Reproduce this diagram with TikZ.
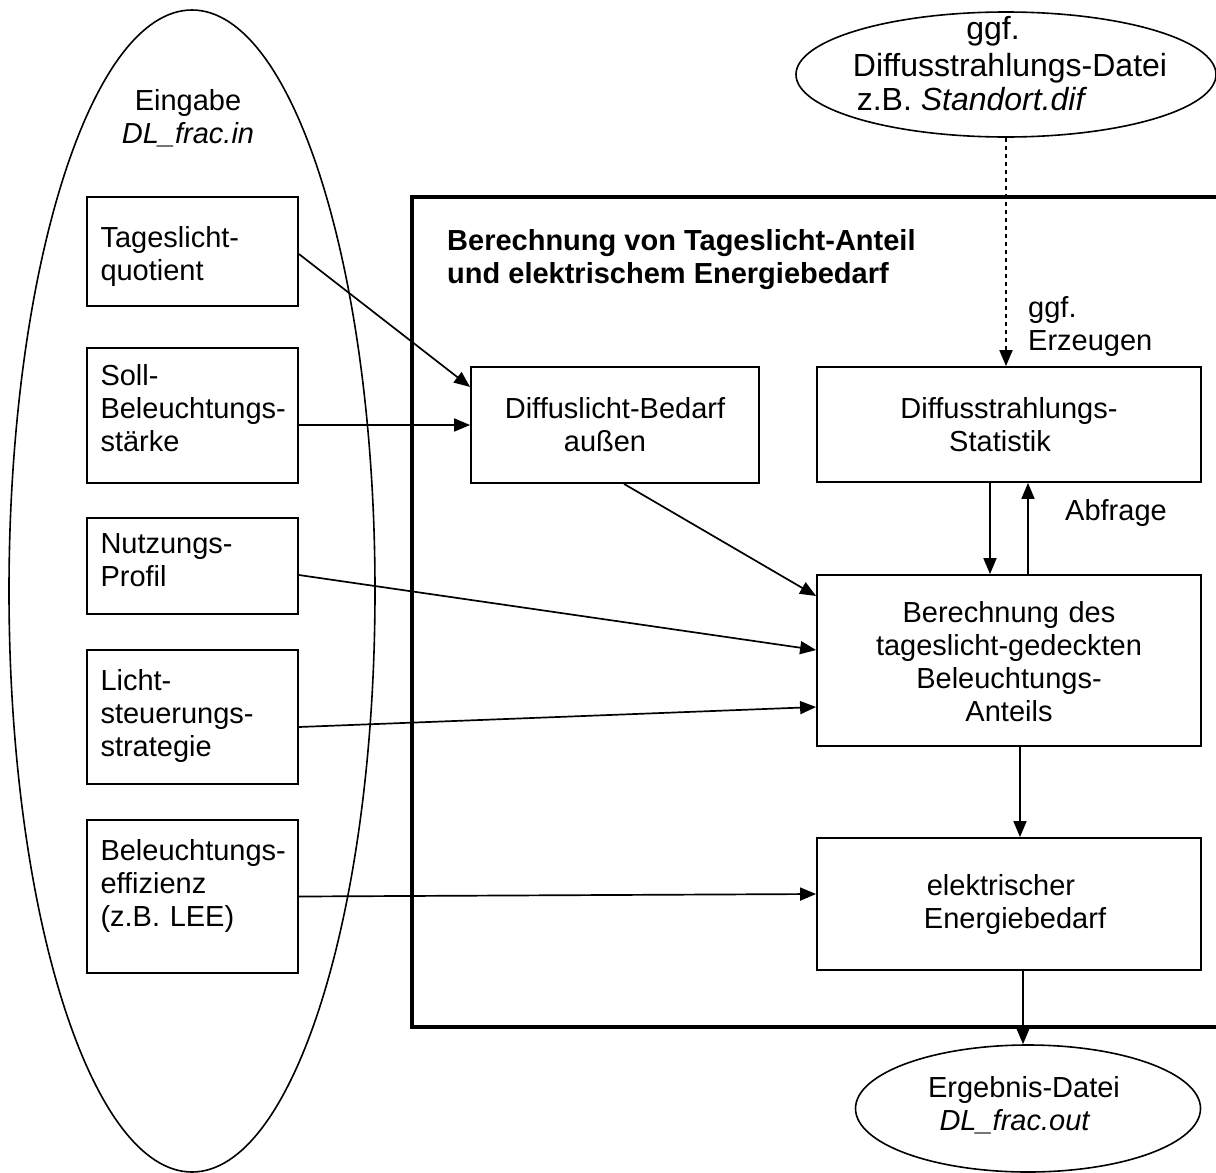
\documentclass[tikz,border=0pt]{standalone}
\usepackage{fontspec}
\setmainfont{Liberation Sans}
\usetikzlibrary{shapes.geometric,arrows.meta,calc}
\hyphenpenalty=10000
\exhyphenpenalty=10000
\newcommand{\padR}[1]{\rule{#1}{0pt}}
\begin{document}
\begin{tikzpicture}[x=1pt,y=-1pt,
  font=\fontsize{29}{33}\selectfont,
  arr/.style={-{Triangle[length=16pt,width=13pt]}, line width=1.7pt},
  dotline/.style={line width=2pt, dash pattern=on 4pt off 4pt},
  bl/.style={text height={40pt+(#1)*1pt}, text depth={40pt-(#1)*1pt}},
  inbox/.style={draw, line width=1.8pt, rectangle, minimum width=211pt, text width=184pt, inner xsep=13.5pt, inner ysep=0pt, align=left},
  pbox/.style={draw, line width=1.8pt, rectangle, inner ysep=0pt, align=center},
  oval/.style={draw, ellipse, line width=1.6pt, inner sep=0pt},
  lbl/.style={inner sep=0pt}]
\useasboundingbox (0,0) rectangle (1216,1173);

% frame
\node[draw, line width=4pt, rectangle, minimum width=828pt, minimum height=830pt, inner sep=0pt] (frame) at (826,612) {};

% input ellipse
\node[oval, minimum width=366pt, minimum height=1162pt] (E) at (192,591) {};
\node[lbl, anchor=base, align=center] (Etxt) at (188,143) {Eingabe\\\textit{DL\_frac.in}};

% input boxes
\node[inbox, minimum height=109pt, bl=-4.5] (q) at (192.5,251.5) {Tageslicht-\\quotient};
\node[inbox, minimum height=135pt, bl=-30.5] (s) at (192.5,415.5) {Soll-\\Beleuchtungs-\\stärke};
\node[inbox, minimum height=96pt, bl=-13] (n) at (192.5,566) {Nutzungs-\\Profil};
\node[inbox, minimum height=134pt, bl=-27] (l) at (192.5,717) {Licht-\\steuerungs-\\strategie};
\node[inbox, minimum height=153pt, bl=-36.5] (e) at (192.5,896.5) {Beleuchtungs-\\effizienz\\(z.B. LEE)};

% title
\node[lbl, anchor=base west, align=left, font=\fontsize{29}{33}\selectfont\bfseries] (title) at (447,283) {Berechnung von Tageslicht-Anteil\\und elektrischem Energiebedarf};

% process boxes
\node[pbox, minimum width=288pt, minimum height=116pt, text width=270pt, inner xsep=9pt, bl=-7] (D) at (615,425) {Diffuslicht-Bedarf\\au\ss en\padR{20pt}};
\node[pbox, minimum width=384pt, minimum height=115pt, text width=370pt, inner xsep=7pt, bl=-6.5] (S) at (1009,424.5) {Diffusstrahlungs-\\Statistik\padR{18pt}};
\node[pbox, minimum width=384pt, minimum height=171pt, text width=370pt, inner xsep=7pt, bl=-38.5] (B) at (1009,660.5) {Berechnung des\\tageslicht-gedeckten\\Beleuchtungs-\\Anteils};
\node[pbox, minimum width=384pt, minimum height=132pt, text width=370pt, inner xsep=7pt, bl=-9] (El) at (1009,904) {elektrischer\padR{16pt}\\\hspace*{12pt}Energiebedarf};

% file ellipses
\node[oval, minimum width=420pt, minimum height=125pt] (F) at (1006,74.5) {};
\node[lbl, anchor=base, align=center, font=\fontsize{32}{34}\selectfont] (Ftxt) at (1010,110) {ggf.\padR{34pt}\\[3pt]Diffusstrahlungs-Datei\\z.B. \textit{Standort.dif}\padR{76pt}};
\node[oval, minimum width=345pt, minimum height=127pt] (R) at (1028,1108.5) {};
\node[lbl, anchor=base, align=center] (Rtxt) at (1024,1130) {Ergebnis-Datei\\\textit{DL\_frac.out}\padR{18pt}};

% labels
\node[lbl, anchor=base west, align=left] (gen) at (1028,350) {ggf.\\Erzeugen};
\node[lbl, anchor=base west] (abf) at (1065,520) {Abfrage};

% connectors
\draw[arr] ([yshift=-2.5pt]q.east) -- ([yshift=38pt]D.west);
\draw[arr] (s.east |- D.west) -- (D.west);
\draw[arr] ([xshift=9pt]D.south) -- ([yshift=64.5pt]B.west);
\draw[arr] ([yshift=-9pt]n.east) -- ([yshift=10.5pt]B.west);
\draw[arr] ([yshift=-10pt]l.east) -- ([yshift=-46.5pt]B.west);
\draw[arr] (e.east) -- ([yshift=10pt]El.west);
\draw[arr] ([xshift=-19pt]S.south) -- ([xshift=-19pt]B.north);
\draw[arr] ([xshift=19pt]B.north) -- ([xshift=19pt]S.south);
\draw[arr] ([xshift=11pt]B.south) -- ([xshift=11pt]El.north);
\draw[arr] ([xshift=14pt]El.south) -- ([xshift=14pt]El.south |- R.north);
\draw[arr, dotline] (F.south) -- (F.south |- S.north);
\end{tikzpicture}
\end{document}
